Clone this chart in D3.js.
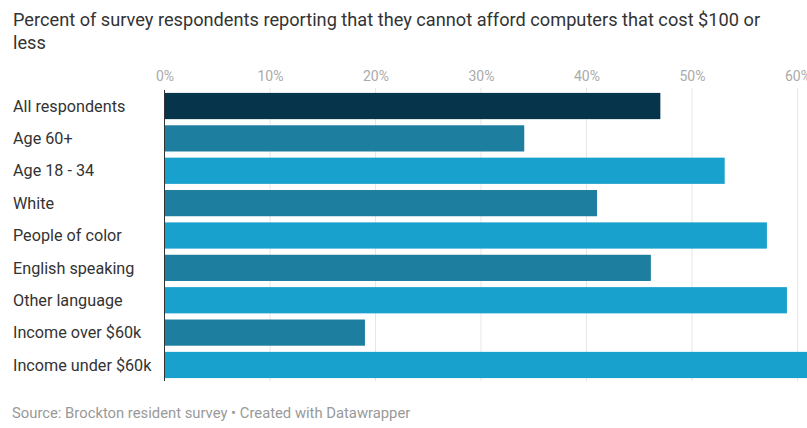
<!DOCTYPE html>
<html>
<head>
<meta charset="utf-8">
<script src="https://cdn.jsdelivr.net/npm/d3@7"></script>
<style>
  html, body { margin: 0; padding: 0; background: #fff; }
  svg { display: block; font-family: Roboto, "Noto Sans", sans-serif; }
</style>
</head>
<body>
<svg id="chart" width="807" height="428"></svg>
<script>
// Share of respondents who cannot afford a computer costing $100 or less
const categories = [
  "All respondents", "Age 60+", "Age 18 - 34", "White", "People of color",
  "English speaking", "Other language", "Income over $60k", "Income under $60k"
];
const values = [47.0, 34.1, 53.1, 41.0, 57.1, 46.1, 59.0, 19.0, 62.0];
const groups = ["all", "sub", "focus", "sub", "focus", "sub", "focus", "sub", "focus"];
const tickValues = [0, 10, 20, 30, 40, 50, 60];

const colors = { all: "#05344b", sub: "#1e7e9f", focus: "#19a1cd" };

const svg = d3.select("#chart");

// Title
const title = svg.append("text")
  .attr("x", 13).attr("fill", "#333").attr("font-size", 18.2);
title.append("tspan").attr("x", 13).attr("y", 26)
  .text("Percent of survey respondents reporting that they cannot afford computers that cost $100 or");
title.append("tspan").attr("x", 13).attr("y", 49).text("less");

const x = d3.scaleLinear().domain([0, 60]).range([164.5, 797.5]);
const y = d3.scaleBand().domain(categories).range([90, 381]).paddingInner(0.19).paddingOuter(0.09);

// Gridlines
svg.append("g").selectAll("line").data(tickValues.slice(1)).join("line")
  .attr("x1", d => x(d)).attr("x2", d => x(d))
  .attr("y1", 88).attr("y2", 381)
  .attr("stroke", "#e6e6e6").attr("stroke-width", 1);

// Tick labels
const axis = d3.axisTop(x).tickValues(tickValues).tickFormat(d => d + "%").tickSize(0).tickPadding(0);
const ag = svg.append("g").attr("transform", "translate(0,81)").call(axis);
ag.select(".domain").remove();
ag.selectAll("text").attr("fill", "#aaa").attr("font-size", 14)
  .attr("font-family", "Roboto, sans-serif");

// Bars
svg.append("g").selectAll("rect").data(categories).join("rect")
  .attr("x", x(0))
  .attr("y", d => y(d))
  .attr("width", (d, i) => x(values[i]) - x(0))
  .attr("height", y.bandwidth())
  .attr("fill", (d, i) => colors[groups[i]]);

// Baseline
svg.append("line")
  .attr("x1", x(0)).attr("x2", x(0)).attr("y1", 90).attr("y2", 381)
  .attr("stroke", "#333").attr("stroke-width", 1);

// Category labels
svg.append("g").selectAll("text").data(categories).join("text")
  .attr("x", 13)
  .attr("y", d => y(d) + y.bandwidth() / 2)
  .attr("dy", "0.35em")
  .attr("fill", "#333").attr("font-size", 16.2)
  .text(d => d);

// Footer
svg.append("text")
  .attr("x", 12).attr("y", 418)
  .attr("fill", "#999").attr("font-size", 14.8)
  .text("Source: Brockton resident survey • Created with Datawrapper");
</script>
</body>
</html>
